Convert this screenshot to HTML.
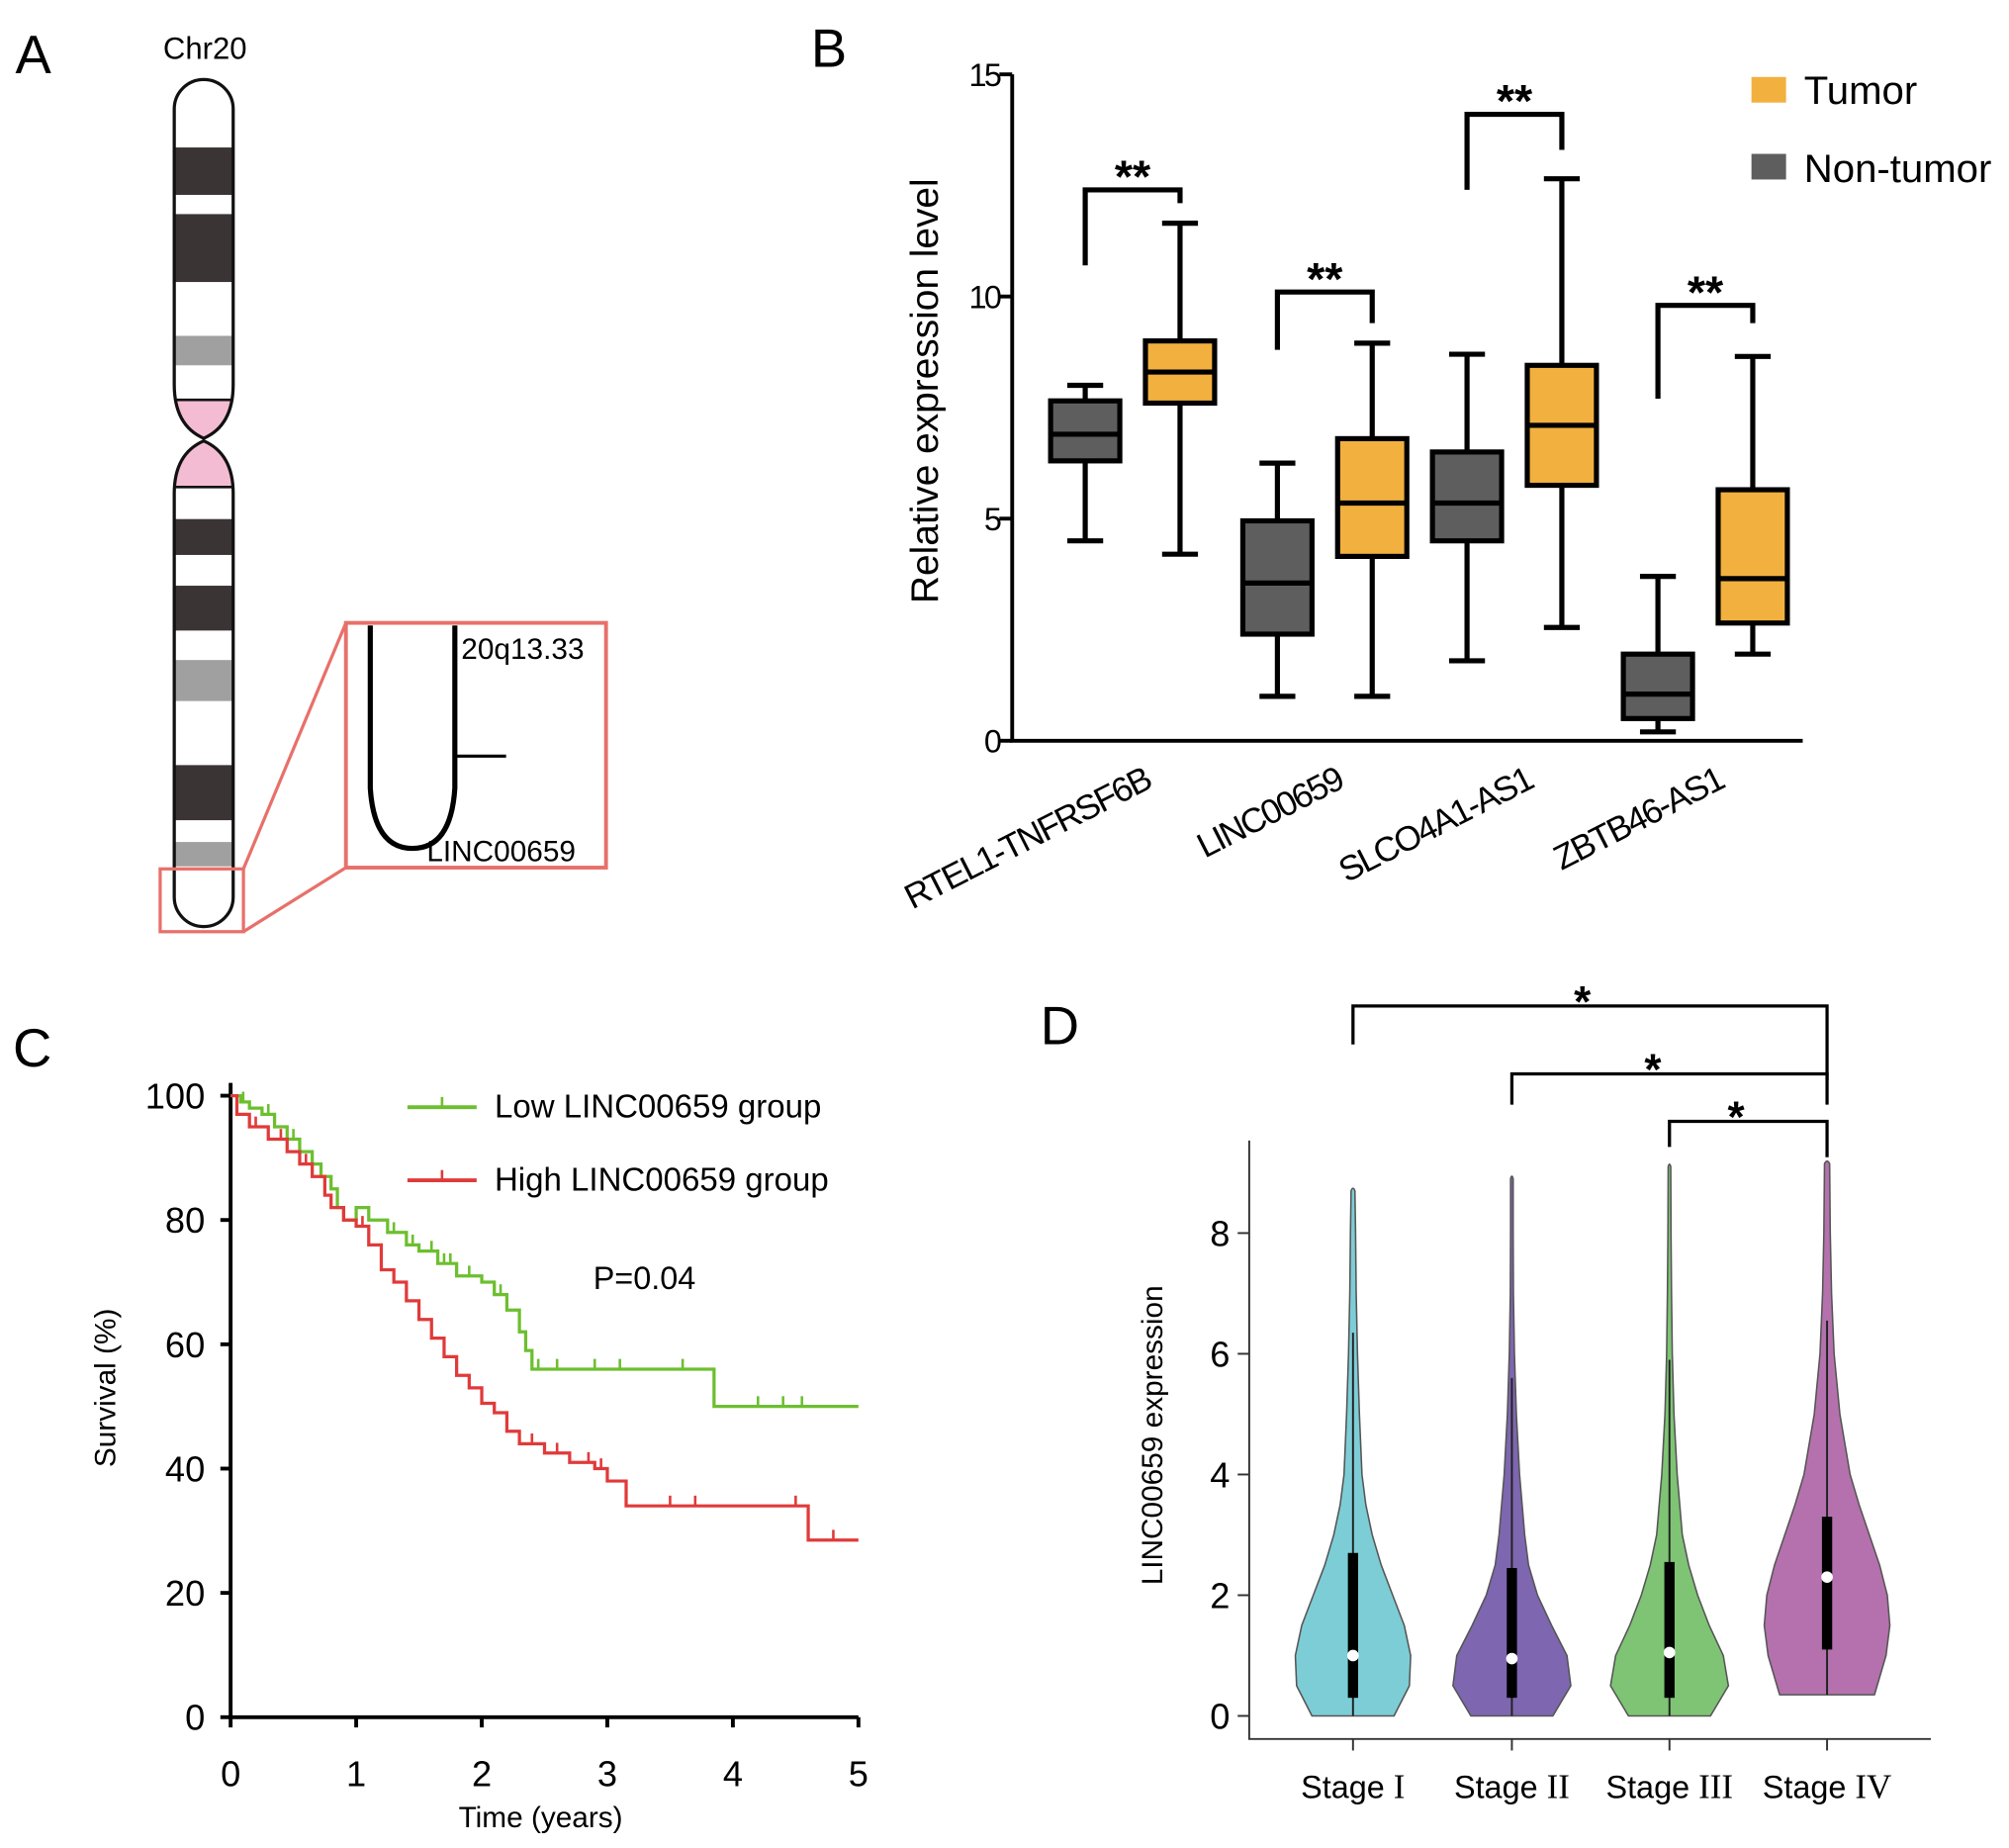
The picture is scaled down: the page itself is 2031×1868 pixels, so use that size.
<!DOCTYPE html>
<html><head><meta charset="utf-8"><style>
html,body{margin:0;padding:0;background:#fff}
svg{display:block;font-family:"Liberation Sans",Arial,sans-serif}
</style></head><body>
<svg id="fig" width="2031" height="1868" viewBox="0 0 1568 1442" xmlns="http://www.w3.org/2000/svg">
<g>
<text x="12" y="57" font-size="42">A</text>
<text x="160" y="46" font-size="24" text-anchor="middle">Chr20</text>
<clipPath id="cp"><path d="M136,85 A23,23 0 0 1 182,85 L182,300 Q182,332 159,342 Q136,332 136,300 Z M159,344 Q182,354 182,385 L182,700 A23,23 0 0 1 136,700 L136,385 Q136,354 159,344 Z"/></clipPath>
<g clip-path="url(#cp)">
<rect x="130" y="115" width="60" height="37" fill="#3a3435"/>
<rect x="130" y="167" width="60" height="53" fill="#3a3435"/>
<rect x="130" y="262" width="60" height="23" fill="#a0a0a0"/>
<rect x="130" y="312" width="60" height="68" fill="#f4bcd2"/>
<rect x="130" y="405" width="60" height="28" fill="#3a3435"/>
<rect x="130" y="457" width="60" height="35" fill="#3a3435"/>
<rect x="130" y="515" width="60" height="32" fill="#a0a0a0"/>
<rect x="130" y="597" width="60" height="43" fill="#3a3435"/>
<rect x="130" y="657" width="60" height="19" fill="#a0a0a0"/>
</g>
<path d="M136,85 A23,23 0 0 1 182,85 L182,300 Q182,332 159,342 Q136,332 136,300 Z M159,344 Q182,354 182,385 L182,700 A23,23 0 0 1 136,700 L136,385 Q136,354 159,344 Z" fill="none" stroke="#111" stroke-width="2.5"/>
<line x1="136" y1="312" x2="182" y2="312" stroke="#111" stroke-width="2"/>
<line x1="136" y1="380" x2="182" y2="380" stroke="#111" stroke-width="2"/>
<rect x="125" y="678" width="65" height="49" fill="none" stroke="#e8706a" stroke-width="2.5"/>
<line x1="190" y1="678" x2="270" y2="486" stroke="#e8706a" stroke-width="2.5"/>
<line x1="190" y1="727" x2="270" y2="677" stroke="#e8706a" stroke-width="2.5"/>
<rect x="270" y="486" width="203" height="191" fill="none" stroke="#e8706a" stroke-width="3"/>
<path d="M289,488 L289,615 Q292,662 322,662 Q352,662 355,615 L355,488" fill="none" stroke="#000" stroke-width="4"/>
<line x1="355" y1="590" x2="395" y2="590" stroke="#000" stroke-width="2.5"/>
<text x="360" y="514" font-size="23">20q13.33</text>
<text x="333" y="672" font-size="23">LINC00659</text>
</g>
<g id="panelB"></g>
<g id="panelC"></g>
<g id="panelD"></g>
</svg>
<script>
// ---- Panel B data ----
const bGenes = ["RTEL1-TNFRSF6B","LINC00659","SLCO4A1-AS1","ZBTB46-AS1"];
const bNtMin = [4.5,1.0,1.8,0.2];
const bNtQ1 = [6.3,2.4,4.5,0.5];
const bNtMed = [6.9,3.55,5.35,1.05];
const bNtQ3 = [7.65,4.95,6.5,1.95];
const bNtMax = [8.0,6.25,8.7,3.7];
const bTMin = [4.2,1.0,2.55,1.95];
const bTQ1 = [7.6,4.15,5.75,2.65];
const bTMed = [8.3,5.35,7.1,3.65];
const bTQ3 = [9.0,6.8,8.45,5.65];
const bTMax = [11.65,8.95,12.65,8.65];
const bSigY = [12.4,10.1,14.1,9.8];
const bSigLeft = [10.7,8.8,12.4,7.7];
const bSigRight = [12.1,9.4,13.3,9.4];
const bTicks = [0,5,10,15];
// ---- Panel C data ----
const cTicksX = [0,1,2,3,4,5];
const cTicksY = [0,20,40,60,80,100];
const lowT = [0,0.08,0.15,0.25,0.35,0.45,0.55,0.65,0.72,0.8,0.85,0.9,1.0,1.1,1.25,1.4,1.5,1.65,1.8,2.0,2.1,2.2,2.3,2.35,2.4,3.85,5.0];
const lowS = [100,99,98,97,95,93,91,89,87,85,82,80,82,80,78,76,75,73,71,70,68,65.5,62,59,56,50,50];
const highT = [0,0.05,0.15,0.3,0.45,0.55,0.65,0.75,0.8,0.9,1.0,1.1,1.2,1.3,1.4,1.5,1.6,1.7,1.8,1.9,2.0,2.1,2.2,2.3,2.5,2.7,2.9,3.0,3.15,4.6,5.0];
const highS = [100,97,95,93,91,89,87,84,82,80,79,76,72,70,67,64,61,58,55,53,50.5,49,46,44,42.5,41,40,38,34,28.5,28.5];
const lowCens = [0.1,0.3,0.5,0.9,1.3,1.45,1.6,1.7,1.75,1.9,2.15,2.45,2.6,2.9,3.1,3.6,4.2,4.4,4.55];
const highCens = [0.2,0.4,0.6,1.05,1.6,2.4,2.6,2.85,2.95,3.5,3.7,4.5,4.8];
// ---- Panel D data ----
const dStageNums = ["I","II","III","IV"];
const dLevels1 = [0,0.5,1,1.5,2,2.5,3,3.5,4,5,6,7,8,8.7];
const dDens1 = [32,44,45,40,31,22,15,10,7,5,3.5,2.5,2,1.5];
const dLevels2 = [0,0.5,1,1.5,2,2.5,3,4,5,6,7,8,8.9];
const dDens2 = [32,46,43,31,20,13,10,6,3.5,2,1.2,1,1];
const dLevels3 = [0,0.5,1,1.5,2,2.5,3,4,5,6,7,8,9.1];
const dDens3 = [32,46,42,31,22,15,10,6,3.5,2.2,1.6,1.2,1];
const dLevels4 = [0.35,1,1.5,2,2.5,3,3.5,4,5,6,7,8,9.15];
const dDens4 = [37,46,49,47,41,33,25,18,10,5.5,3.5,2.5,2];
const dQ1 = [0.3,0.3,0.3,1.1];
const dMed = [1.0,0.95,1.05,2.3];
const dQ3 = [2.7,2.45,2.55,3.3];
const dWhiskTop = [6.35,5.6,5.9,6.55];
const dWhiskBot = [0,0,0,0.35];
const dTicks = [0,2,4,6,8];

const NS="http://www.w3.org/2000/svg";
function mk(parent,tag,attrs,text){const e=document.createElementNS(NS,tag);for(const k in attrs)e.setAttribute(k,attrs[k]);if(text!==undefined)e.textContent=text;parent.appendChild(e);return e;}

// ===== Panel B =====
(function(){
const g=document.getElementById('panelB');
const yB=v=>578-v*34.67;
const centers=[884,1034,1182,1331];
const off=37, bw=54;
let t=mk(g,'text',{x:633,y:52,'font-size':42},'B');


let ax=mk(g,'path',{d:`M790,${yB(15)} L790,578 L1407,578`,fill:'none',stroke:'#000','stroke-width':3});


bTicks.forEach(v=>{
 mk(g,'line',{x1:780,x2:790,y1:yB(v),y2:yB(v),stroke:'#000','stroke-width':3});
 let l=mk(g,'text',{x:780,y:yB(v)+9,'font-size':25,'text-anchor':'end','letter-spacing':'-2'},String(v));
 
 
});
let yt=mk(g,'text',{x:0,y:0,'font-size':30,'text-anchor':'middle',transform:'translate(732,305) rotate(-90)'},'Relative expression level');


function box(cx,mn,q1,md,q3,mx,col,name){
 const grp=mk(g,'g',{});
 
 
 mk(grp,'line',{x1:cx,x2:cx,y1:yB(mx),y2:yB(mn),stroke:'#000','stroke-width':4});
 mk(grp,'line',{x1:cx-14,x2:cx+14,y1:yB(mx),y2:yB(mx),stroke:'#000','stroke-width':4});
 mk(grp,'line',{x1:cx-14,x2:cx+14,y1:yB(mn),y2:yB(mn),stroke:'#000','stroke-width':4});
 mk(grp,'rect',{x:cx-bw/2,y:yB(q3),width:bw,height:yB(q1)-yB(q3),fill:col,stroke:'#000','stroke-width':4});
 mk(grp,'line',{x1:cx-bw/2,x2:cx+bw/2,y1:yB(md),y2:yB(md),stroke:'#000','stroke-width':4});
}
bGenes.forEach((gname,i)=>{
 const c=centers[i];
 box(c-off,bNtMin[i],bNtQ1[i],bNtMed[i],bNtQ3[i],bNtMax[i],'#5e5e5e','box-nontumor-'+i);
 box(c+off,bTMin[i],bTQ1[i],bTMed[i],bTQ3[i],bTMax[i],'#f2b03f','box-tumor-'+i);
 const br=mk(g,'path',{d:`M${c-off},${yB(bSigLeft[i])} L${c-off},${yB(bSigY[i])} L${c+off},${yB(bSigY[i])} L${c+off},${yB(bSigRight[i])}`,fill:'none',stroke:'#000','stroke-width':4});
 
 
 const st=mk(g,'text',{x:c,y:yB(bSigY[i])+2,'font-size':36,'text-anchor':'middle','font-weight':'bold'},'**');
 
 
 const xl=mk(g,'text',{x:0,y:0,'font-size':27,'text-anchor':'end','letter-spacing':'-1.5',transform:`translate(${c+16},614) rotate(-27)`},gname);
 
 
});
const lg=mk(g,'g',{});


mk(lg,'rect',{x:1367,y:60,width:27,height:20,fill:'#f2b03f'});
mk(lg,'text',{x:1408,y:81,'font-size':31},'Tumor');
mk(lg,'rect',{x:1367,y:120,width:27,height:20,fill:'#5e5e5e'});
mk(lg,'text',{x:1408,y:142,'font-size':31},'Non-tumor');
})();

// ===== Panel C =====
(function(){
const g=document.getElementById('panelC');
const xC=v=>180+v*98, yC=v=>1340-v*4.85;
let t=mk(g,'text',{x:10,y:832,'font-size':42},'C');


let ax=mk(g,'path',{d:`M180,845 L180,1340 L670,1340`,fill:'none',stroke:'#000','stroke-width':3});


cTicksY.forEach(v=>{
 mk(g,'line',{x1:172,x2:180,y1:yC(v),y2:yC(v),stroke:'#000','stroke-width':3});
 let l=mk(g,'text',{x:160,y:yC(v)+10,'font-size':28,'text-anchor':'end'},String(v));
 
 
});
cTicksX.forEach(v=>{
 mk(g,'line',{x1:xC(v),x2:xC(v),y1:1340,y2:1348,stroke:'#000','stroke-width':3});
 let l=mk(g,'text',{x:xC(v),y:1394,'font-size':28,'text-anchor':'middle'},String(v));
 
 
});
let xt=mk(g,'text',{x:422,y:1426,'font-size':23,'text-anchor':'middle'},'Time (years)');


let yt=mk(g,'text',{x:0,y:0,'font-size':23,'text-anchor':'middle',transform:'translate(90,1083) rotate(-90)'},'Survival  (%)');


function stepPath(T,S){let d=`M${xC(T[0])},${yC(S[0])}`;for(let i=1;i<T.length;i++){d+=` L${xC(T[i])},${yC(S[i-1])} L${xC(T[i])},${yC(S[i])}`;}return d;}
function valAt(T,S,t){let v=S[0];for(let i=0;i<T.length;i++){if(T[i]<=t)v=S[i];}return v;}
function curve(T,S,cens,col,name){
 const p=mk(g,'path',{d:stepPath(T,S),fill:'none',stroke:col,'stroke-width':2.5});
 
 
 cens.forEach(c=>{
  const v=valAt(T,S,c);
  const m=mk(g,'line',{x1:xC(c),x2:xC(c),y1:yC(v)-8,y2:yC(v),stroke:col,'stroke-width':2});
  
  
 });
}
curve(lowT,lowS,lowCens,'#6cbf2f','low-group-curve');
curve(highT,highS,highCens,'#e03a3a','high-group-curve');
const lg=mk(g,'g',{});


mk(lg,'line',{x1:318,x2:372,y1:864,y2:864,stroke:'#6cbf2f','stroke-width':3});
mk(lg,'line',{x1:345,x2:345,y1:856,y2:864,stroke:'#6cbf2f','stroke-width':2});
mk(lg,'text',{x:386,y:872,'font-size':25.5},'Low LINC00659 group');
mk(lg,'line',{x1:318,x2:372,y1:921,y2:921,stroke:'#e03a3a','stroke-width':3});
mk(lg,'line',{x1:345,x2:345,y1:913,y2:921,stroke:'#e03a3a','stroke-width':2});
mk(lg,'text',{x:386,y:929,'font-size':25.5},'High LINC00659 group');
const pv=mk(g,'text',{x:463,y:1006,'font-size':25},'P=0.04');


})();

// ===== Panel D =====
(function(){
const g=document.getElementById('panelD');
const yD=v=>1339-v*47.1;
const cx=[1056,1180,1303,1426];
const cols=['#7dcdd6','#7e66b0','#7ec474','#b571ad'];
const L=[dLevels1,dLevels2,dLevels3,dLevels4], D=[dDens1,dDens2,dDens3,dDens4];
let t=mk(g,'text',{x:812,y:815,'font-size':42},'D');


let ax=mk(g,'path',{d:`M975,890 L975,1357 L1507,1357`,fill:'none',stroke:'#333','stroke-width':1.5});


dTicks.forEach(v=>{
 mk(g,'line',{x1:966,x2:975,y1:yD(v),y2:yD(v),stroke:'#333','stroke-width':1.5});
 let l=mk(g,'text',{x:960,y:yD(v)+10,'font-size':28,'text-anchor':'end'},String(v));
 
 
});
let yt=mk(g,'text',{x:0,y:0,'font-size':23,'text-anchor':'middle',transform:'translate(907,1120) rotate(-90)'},'LINC00659 expression');


dStageNums.forEach((s,i)=>{
 const c=cx[i], lv=L[i], dn=D[i];
 let right=lv.map((v,k)=>`${c+dn[k]},${yD(v)}`);
 let left=lv.map((v,k)=>`${c-dn[k]},${yD(v)}`).reverse();
 const top=lv[lv.length-1];
 const d=`M${c-dn[0]},${yD(lv[0])} L${right.join(' L')} Q${c},${yD(top)-4} ${c-dn[dn.length-1]},${yD(top)} L${left.join(' L')} Z`;
 const v=mk(g,'path',{d:d,fill:cols[i],stroke:'#555','stroke-width':1.2,'stroke-linejoin':'round'});
 
 
 mk(g,'line',{x1:c,x2:c,y1:yD(dWhiskTop[i]),y2:yD(dWhiskBot[i]),stroke:'#222','stroke-width':1.5});
 const b=mk(g,'rect',{x:c-4,y:yD(dQ3[i]),width:8,height:yD(dQ1[i])-yD(dQ3[i]),fill:'#000'});
 
 
 const m=mk(g,'circle',{cx:c,cy:yD(dMed[i]),r:4.5,fill:'#fff'});
 
 
 mk(g,'line',{x1:c,x2:c,y1:1357,y2:1366,stroke:'#333','stroke-width':1.5});
 const l=mk(g,'text',{x:c,y:1403,'font-size':25,'text-anchor':'middle'});
 
 
 mk(l,'tspan',{},'Stage ');
 mk(l,'tspan',{'font-family':'"Liberation Serif",serif','font-size':27},s);
});
const brs=[[0,785,815,843,1235],[1,838,862,862,1290],[2,875,895,903,1355]];
brs.forEach(b=>{
 const p=mk(g,'path',{d:`M${cx[b[0]]},${b[2]} L${cx[b[0]]},${b[1]} L${cx[3]},${b[1]} L${cx[3]},${b[3]}`,fill:'none',stroke:'#000','stroke-width':2.5});
 
 
 const s=mk(g,'text',{x:b[4],y:b[1]+8,'font-size':34,'text-anchor':'middle','font-weight':'bold'},'*');
 
 
});
})();
</script>
</body></html>
